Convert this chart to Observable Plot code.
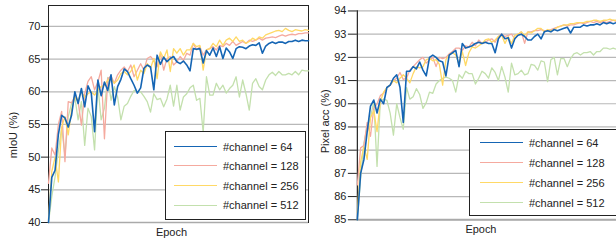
<!DOCTYPE html>
<html>
<head>
<meta charset="utf-8">
<script src="https://cdn.jsdelivr.net/npm/d3@7"></script>
<script src="https://cdn.jsdelivr.net/npm/@observablehq/plot@0.6"></script>
<style>
  html, body { margin: 0; padding: 0; background: #fff; }
  body { width: 616px; height: 240px; overflow: hidden; position: relative; font-family: "Liberation Sans", Arial, sans-serif; }
  .panel { position: absolute; top: 0; }
  .legend { position: absolute; border: 1px solid #222; background: #fff; box-sizing: border-box; }
  .legend .sw { position: absolute; height: 0; border-top-style: solid; }
  .legend .lb { position: absolute; font-size: 11px; line-height: 13px; color: #222; white-space: nowrap; transform: translateY(-50%); }
</style>
</head>
<body>
<div id="left" class="panel" style="left:0px"></div>
<div id="right" class="panel" style="left:310px"></div>
<script>
// ---- series names / colours ----
const seriesNames = ["#channel = 64", "#channel = 128", "#channel = 256", "#channel = 512"];
const seriesColors = ["#1565b4", "#f5aa9f", "#ffd966", "#c3e0ad"];
const seriesWidths = [1.6, 1.3, 1.3, 1.3];

// ---- left panel: mIoU (%) ----
const miouTicks = [40, 45, 50, 55, 60, 65, 70];
const miou64 = [40,46.9,48,53.5,56.4,56,54.6,56.4,60,58.2, 60.5,57.7,60.9,59.8,53.9,61.8,59.4,61.5,60.2,62.6, 58,60.8,61.9,63.5,63.1,62,61,59.8,60.6,63.6, 64.1,63.8,60.3,65.6,64.2,65.3,64.6,65.1,65.4,64.6, 64.3,64.7,64.1,63.2,66.6,66.5,66.6,64.4,66.3,65.6, 66.7,65.4,66.9,65.1,66.7,66.1,65.1,66.6,66.9,66.8, 66.6,67,67.2,67.1,67.5,65.9,67,67.4,67.6,67.4, 67.6,67.6,67.4,67.7,67.7,67.9,67.7,67.9,67.8,67.8];
const miou128 = [46,51.4,50.3,55,57,49.3,58.5,58.3,59.3,58.5, 54.9,59.7,61.6,62.3,60.3,61.5,63.3,52.8,62,62.4, 61.3,62.6,63.3,63.8,63.1,64.1,62.3,63.3,64.3,63.3, 65.1,65.4,64.8,63.8,65.9,63.3,65.1,65.4,64.1,64.6, 65.4,64.8,65.9,65.6,67.4,66.4,66.9,65.6,66.4,66.6, 66.9,66.4,67.1,66.9,67.4,67.1,67.7,67.1,67.4,67.7, 67.4,67.9,67.7,67.9,68.2,67.9,68.2,68.3,68.4,68.3, 68.5,68.7,68.5,68.7,68.8,68.7,68.9,68.9,69,69];
const miou256 = [40.5,47.8,50,46.2,54.6,56.2,53.4,57.2,59.2,58.7, 60,59.2,59.7,60,59.5,60.3,60.8,61,61.8,62, 61.3,61.8,62.8,63.1,62.6,63.1,64.1,61.8,63.3,62.8, 64.3,63.6,65.1,62,66.1,65.1,66.4,63.1,66.6,65.9, 66.6,65.6,66.4,66.4,67.4,66.9,67.1,63.3,66.4,66.6, 67.4,66.9,67.9,67.1,67.9,68.2,67.7,68.4,67.7,67.9, 67.4,67.7,68.2,67.9,68.4,68.2,68.7,68.9,69.1,69.3, 69.4,69.2,69.7,69.4,69.2,69.5,69.4,69.3,69.5,69.4];
const miou512 = [40,44,47,51,54.5,50.3,56.2,58.2,59.2,55.7, 58.5,51.8,57.5,56.2,51.1,61,55.7,57.5,62.2,58.7, 60.8,59.2,55.7,57.8,58.2,59.3,60.2,60,60,59.3, 58.5,56.9,59.7,58.8,59,57.7,58.9,61,57.8,61, 57.2,59.2,59.7,60.6,61,58.7,59,53.8,62.3,59.5, 59.5,61.3,60.3,61,59.8,60.5,61,62.3,59.2,61.8, 59.7,57.2,61.3,62,60.8,60.3,61.8,62.6,63,62.5, 63.1,62.6,62.6,62.8,62.6,63.1,62.6,63.3,63.2,63.2];

// ---- right panel: Pixel acc (%) ----
const accTicks = [85, 86, 87, 88, 89, 90, 91, 92, 93, 94];
const acc64 = [85,87.0,87.6,88.8,89.9,90.16,89.6,90.2,90.0,90.7, 90.8,91.1,91.25,90.7,89.2,91.4,91.4,91.6,91.5,91.8, 91.45,91.2,92.0,92.1,92.0,91.85,91.8,91.2,92.1,92.2, 92.3,91.6,92.6,92.4,92.45,92.5,92.6,92.65,92.6,92.65, 92.6,92.6,92.2,92.8,93.0,92.8,92.85,92.4,92.8,92.95, 93.0,92.9,92.75,92.75,92.9,93.0,92.8,93.1,93.15,93.1, 93.2,93.15,93.2,93.25,93.3,93.05,93.3,93.3,93.3,93.4, 93.35,93.4,93.4,93.45,93.4,93.5,93.45,93.5,93.45,93.5];
const acc128 = [86.5,88.1,88.2,89.2,88.6,89.8,90.0,90.35,90.45,90.7, 90.8,91.0,91.1,91.35,91.05,91.1,91.45,91.6,91.75,91.9, 92.0,91.75,91.9,92.0,91.6,92.0,91.95,92.0,92.15,92.25, 92.4,92.4,92.3,92.5,92.45,92.65,92.5,92.75,92.6,92.65, 92.75,92.8,92.65,92.9,93.0,92.9,92.95,93.0,92.8,93.0, 93.1,92.6,93.1,93.1,93.15,93.15,93.2,93.15,93.15,93.2, 93.25,93.3,93.35,93.4,93.35,93.4,93.4,93.45,93.5,93.45, 93.5,93.55,93.5,93.55,93.5,93.55,93.5,93.55,93.6,93.55];
const acc256 = [85.3,87.5,88.15,87.6,89.4,89.7,88.8,90.1,90.5,90.7, 90.8,91.0,90.9,91.1,91.25,91.1,90.9,91.3,91.6,91.55, 91.6,91.9,91.95,91.85,91.9,91.7,90.8,91.9,92.1,92.2, 92.1,91.7,92.25,91.65,92.2,92.45,92.4,92.5,92.6,92.75, 92.8,92.65,92.75,92.9,92.95,92.6,92.9,92.6,92.95,93.0, 93.1,92.95,93.1,93.05,93.15,93.25,93.25,93.1,93.2,93.15, 93.2,93.3,93.35,93.4,93.4,93.45,93.45,93.5,93.5,93.5, 93.55,93.55,93.6,93.6,93.55,93.6,93.6,93.65,93.6,93.6];
const acc512 = [85,86.8,88.3,89.0,89.4,90.1,87.3,90.1,90.2,90.15, 89.6,88.65,90.0,89.4,88.9,90.7,90.2,90.3,90.65,90.4, 89.8,90.05,90.5,90.45,90.85,91.0,91.1,91.15,91.1,91.0, 90.5,91.25,91.1,91.4,91.3,91.3,90.85,91.1,91.4,91.3, 91.1,91.55,91.35,91.0,91.6,91.15,90.5,91.75,91.25,91.3, 91.45,91.25,91.3,91.7,91.65,91.45,91.85,91.8,90.95,91.9, 92.0,91.25,91.95,91.95,91.6,91.95,92.15,92.2,92.1,92.2, 92.2,92.25,92.1,92.25,92.25,92.4,92.4,92.35,92.4,92.35];

function toRows(seriesList) {
  const rows = [];
  seriesList.forEach((vals, s) => vals.forEach((v, i) => rows.push({epoch: i + 1, value: v, series: seriesNames[s]})));
  return rows;
}

function panel(opts) {
  const rows = toRows(opts.series);
  const n = opts.series[0].length;
  const drawOrder = [3, 1, 2, 0];
  const lineMarks = drawOrder.map(s => Plot.line(rows.filter(r => r.series === seriesNames[s]), {
    x: "epoch", y: "value", stroke: seriesColors[s], strokeWidth: seriesWidths[s], curve: "linear"
  }));
  return Plot.plot({
    width: opts.width, height: 240,
    marginLeft: opts.marginLeft, marginRight: opts.marginRight,
    marginTop: opts.marginTop, marginBottom: opts.marginBottom,
    x: {domain: [1, n], axis: null},
    y: {domain: opts.yDomain, axis: null},
    style: {fontFamily: "'Liberation Sans', Arial, sans-serif", fontSize: "11px", color: "#222", background: "transparent", overflow: "visible"},
    marks: [
      Plot.gridY(opts.ticks, {stroke: "#b8b8b8", strokeOpacity: 1, strokeWidth: 1.2}),
      ...(opts.fullFrame ? [Plot.frame({stroke: "#222", strokeWidth: 1})] : [Plot.frame({anchor: "left", stroke: "#222", strokeWidth: 1.2})]),
      Plot.ruleY([opts.yDomain[0]], {stroke: "#aaaaaa", strokeWidth: opts.bottomWidth}),
      Plot.axisY(opts.ticks, {tickSize: opts.tickSize, tickPadding: opts.tickPadding, label: null, stroke: "#222", fill: "#222", fontSize: 11}),
      ...lineMarks,
      Plot.text([opts.yLabel], {frameAnchor: "left", rotate: -90, textAnchor: "middle", lineAnchor: "middle", dx: opts.yLabelDx, dy: opts.yLabelDy, fill: "#222", fontSize: 11}),
      Plot.text(["Epoch"], {frameAnchor: "bottom", textAnchor: "middle", lineAnchor: "middle", dx: opts.xLabelDx, dy: 10, fill: "#222", fontSize: 11})
    ]
  });
}

function legend(container, cfg) {
  const box = document.createElement("div");
  box.className = "legend";
  Object.assign(box.style, {left: cfg.left + "px", top: cfg.top + "px", width: cfg.width + "px", height: cfg.height + "px"});
  seriesNames.forEach((name, s) => {
    const y = cfg.firstRow + s * cfg.rowGap;
    const sw = document.createElement("div");
    sw.className = "sw";
    Object.assign(sw.style, {left: cfg.swLeft + "px", width: "43px", top: (y - seriesWidths[s] / 2) + "px",
      borderTopWidth: (s === 0 ? 1.8 : 1.4) + "px", borderTopColor: seriesColors[s]});
    const lb = document.createElement("div");
    lb.className = "lb";
    lb.textContent = name;
    Object.assign(lb.style, {left: cfg.textLeft + "px", top: y + "px"});
    box.appendChild(sw);
    box.appendChild(lb);
  });
  container.appendChild(box);
}

const leftChart = panel({
  series: [miou64, miou128, miou256, miou512], ticks: miouTicks, yDomain: [40, 73.2],
  width: 310, marginLeft: 48, marginRight: 2, marginTop: 5, marginBottom: 18,
  fullFrame: true, bottomWidth: 1.4, tickSize: 7, tickPadding: 1,
  yLabel: "mIoU (%)", yLabelDx: -35, yLabelDy: 21, xLabelDx: -7
});
document.getElementById("left").appendChild(leftChart);

const rightChart = panel({
  series: [acc64, acc128, acc256, acc512], ticks: accTicks, yDomain: [85, 94],
  width: 307, marginLeft: 47, marginRight: 0, marginTop: 10.5, marginBottom: 20,
  fullFrame: false, bottomWidth: 2.2, tickSize: 9, tickPadding: 2,
  yLabel: "Pixel acc (%)", yLabelDx: -32, yLabelDy: 6, xLabelDx: -6
});
document.getElementById("right").appendChild(rightChart);

legend(document.body, {left: 165, top: 131, width: 141, height: 89, firstRow: 14.5, rowGap: 19.6, swLeft: 8, textLeft: 57});
legend(document.body, {left: 469, top: 129, width: 148, height: 87, firstRow: 13, rowGap: 20, swLeft: 10, textLeft: 59});
</script>
</body>
</html>
